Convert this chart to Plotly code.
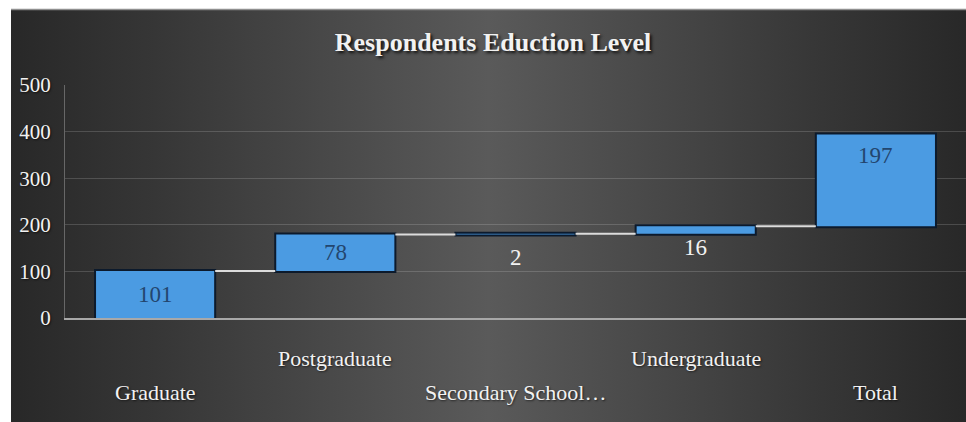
import base64
import plotly.graph_objects as go

categories = ["Graduate", "Postgraduate", "Secondary School…", "Undergraduate", "Total"]
values = [101, 78, 2, 16, 197]
y_ticks = [0, 100, 200, 300, 400, 500]
title_text = "Respondents Eduction Level"

FONT = "Liberation Serif, Times New Roman, serif"
W, H = 966, 422
ML, MR, MT, MB = 65, 0, 85, 104
PW, PH = W - ML - MR, H - MT - MB

def px_x(p):
    return (p - ML) / PW

def px_y(p):
    return (H - MB - p) / PH

# background frame as a gradient svg
svg = (
    '<svg xmlns="http://www.w3.org/2000/svg" width="955" height="413" viewBox="0 0 955 413" '
    'preserveAspectRatio="none"><defs><linearGradient id="g" x1="0" y1="0" x2="1" y2="0">'
    '<stop offset="0" stop-color="#282828"/><stop offset="0.15" stop-color="#363636"/>'
    '<stop offset="0.5" stop-color="#5a5a5a"/><stop offset="0.85" stop-color="#363636"/>'
    '<stop offset="1" stop-color="#282828"/></linearGradient></defs>'
    '<rect width="955" height="413" fill="url(#g)"/></svg>'
)
src = "data:image/svg+xml;base64," + base64.b64encode(svg.encode()).decode()

bar_marker = dict(marker=dict(color="#4b9be2", line=dict(color="#0c1a2c", width=2)))
fig = go.Figure(
    go.Waterfall(
        x=categories,
        y=values,
        measure=["relative"] * len(values),
        textposition="none",
        increasing=bar_marker,
        decreasing=bar_marker,
        totals=bar_marker,
        connector=dict(mode="between", line=dict(color="#dcdcdc", width=2)),
        showlegend=False,
        hoverinfo="x+y",
    )
)

# value labels
label_style = {
    "Graduate": ("mid", 0, "#23466e"),
    "Postgraduate": ("mid", 0, "#23466e"),
    "Secondary School…": ("below", -8, "#f2f2f2"),
    "Undergraduate": ("below", 1, "#f2f2f2"),
    "Total": ("top", -7, "#23466e"),
}
annotations = []
base = 0
for cat, v in zip(categories, values):
    kind, shift, col = label_style[cat]
    if kind == "mid":
        yy, anchor = base + v / 2, "middle"
    elif kind == "below":
        yy, anchor = base, "top"
    else:
        yy, anchor = base + v, "top"
    annotations.append(dict(
        x=cat, y=yy, xref="x", yref="y", text=str(v), showarrow=False,
        yanchor=anchor, yshift=shift,
        font=dict(family=FONT, size=23, color=col),
    ))
    base += v

# staggered category labels
for i, cat in enumerate(categories):
    annotations.append(dict(
        x=cat, y=0, xref="x", yref="paper", text=cat, showarrow=False,
        yanchor="middle", yshift=(-40 if i % 2 else -74),
        font=dict(family=FONT, size=22, color="#f2f2f2", shadow="1px 1px 2px rgba(0,0,0,0.6)"),
    ))

fig.update_layout(
    width=W, height=H,
    margin=dict(l=ML, r=MR, t=MT, b=MB, pad=0),
    paper_bgcolor="#ffffff",
    plot_bgcolor="rgba(0,0,0,0)",
    title=dict(
        text="<b>" + title_text + "</b>", xref="container", x=493 / W, xanchor="center",
        yref="container", y=1 - 42 / H, yanchor="middle",
        font=dict(family=FONT, size=26, color="#f2f2f2", shadow="2px 2px 3px rgba(0,0,0,0.8)"),
    ),
    xaxis=dict(
        type="category", showticklabels=False, ticks="", showgrid=False,
        showline=True, linecolor="#a8a8a8", linewidth=1.5, zeroline=False,
        range=[-0.5, len(categories) - 0.5],
    ),
    yaxis=dict(
        range=[0, 500], tickvals=y_ticks, ticktext=[str(t) for t in y_ticks],
        showgrid=True, gridcolor="rgba(255,255,255,0.16)", gridwidth=1,
        showline=True, linecolor="rgba(255,255,255,0.28)", linewidth=1,
        zeroline=False, ticks="", ticklabelstandoff=9,
        tickfont=dict(family=FONT, size=21, color="#f2f2f2", shadow="1px 1px 2px rgba(0,0,0,0.6)"),
    ),
    waterfallgap=1 / 3,
    annotations=annotations,
    images=[dict(
        source=src, xref="paper", yref="paper",
        x=px_x(11), y=px_y(9), sizex=(W - 11) / PW, sizey=(H - 9) / PH,
        xanchor="left", yanchor="top", sizing="stretch", layer="below",
    )],
    shapes=[dict(
        type="line", xref="paper", yref="paper",
        x0=px_x(11), x1=px_x(W), y0=px_y(9.5), y1=px_y(9.5),
        line=dict(color="#8f8f8f", width=1.5), layer="above",
    )],
)

fig.write_html("out.html")
